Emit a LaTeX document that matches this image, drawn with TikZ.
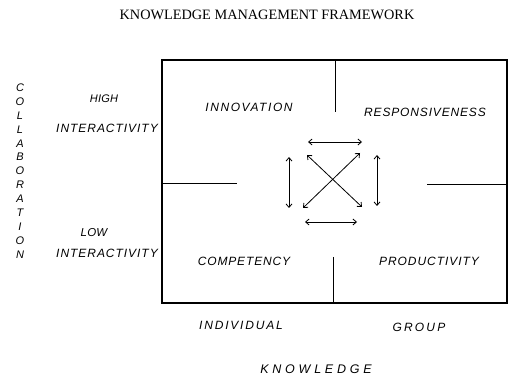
\documentclass[tikz,border=0pt]{standalone}
\usepackage{fontspec}
\setmainfont{Liberation Serif}
\newfontfamily\handA[LetterSpace=8]{Liberation Sans}
\newfontfamily\handB[LetterSpace=13]{Liberation Sans}
\newfontfamily\handC[LetterSpace=7]{Liberation Sans}
\newfontfamily\handD[LetterSpace=2]{Liberation Sans}
\newfontfamily\handE[LetterSpace=15]{Liberation Sans}
\newfontfamily\handF[LetterSpace=18]{Liberation Sans}
\newfontfamily\handG[LetterSpace=30]{Liberation Sans}
\usetikzlibrary{arrows.meta}
\tikzset{
  frame/.style={line width=1.1pt},
  divider/.style={line width=0.9pt},
  link/.style={line width=0.8pt,{Straight Barb[length=3.5pt,width=6pt]}-{Straight Barb[length=3.5pt,width=6pt]}},
  lbl/.style={font=\handA\itshape\fontsize{12}{14}\selectfont,inner sep=0pt},
  vert/.style={font=\handD\itshape\fontsize{11}{12}\selectfont,inner sep=0pt,align=center}
}
\begin{document}
\begin{tikzpicture}[x=1pt,y=-1pt]
\useasboundingbox (0,0) rectangle (509,382);
\node[font=\fontsize{14.3}{16}\selectfont] (title) at (267,15) {KNOWLEDGE MANAGEMENT FRAMEWORK};
% frame
\node[frame,draw,minimum width=345pt,minimum height=243pt,inner sep=0pt] (box) at (334.5,181.5) {};
% dividers
\coordinate (t1) at (335,60); \coordinate (t2) at (335,112);
\coordinate (b1) at (333,257); \coordinate (b2) at (333,303);
\coordinate (l1) at (162,183); \coordinate (l2) at (237,183);
\coordinate (r1) at (427,184); \coordinate (r2) at (507,184);
\draw[divider] (t1) -- (t2);
\draw[divider] (b1) -- (b2);
\draw[divider] (l1) -- (l2);
\draw[divider] (r1) -- (r2);
% arrows
\coordinate (a1) at (308,142); \coordinate (a2) at (362,142);
\coordinate (a3) at (305,222); \coordinate (a4) at (357,222);
\coordinate (a5) at (289,157); \coordinate (a6) at (289,208);
\coordinate (a7) at (377,155); \coordinate (a8) at (377,206);
\coordinate (d1) at (307,155); \coordinate (d2) at (362,207);
\coordinate (d3) at (360,153); \coordinate (d4) at (303,208);
\draw[link] (a1) -- (a2);
\draw[link] (a3) -- (a4);
\draw[link] (a5) -- (a6);
\draw[link] (a7) -- (a8);
\draw[link] (d1) -- (d2);
\draw[link] (d3) -- (d4);
% quadrant labels
\node[lbl,font=\handB\itshape\fontsize{12}{14}\selectfont] (inn) at (249,107) {INNOVATION};
\node[lbl,font=\handC\itshape\fontsize{12}{14}\selectfont] (resp) at (425,112) {RESPONSIVENESS};
\node[lbl,font=\handC\itshape\fontsize{12}{14}\selectfont] (comp) at (244,261) {COMPETENCY};
\node[lbl] (prod) at (429,261) {PRODUCTIVITY};
% side labels
\node[lbl,font=\handD\itshape\fontsize{11}{13}\selectfont] (high) at (104,99) {HIGH};
\node[lbl] (hint) at (107,128) {INTERACTIVITY};
\node[lbl,font=\handD\itshape\fontsize{11.5}{13}\selectfont] (low) at (94,233) {LOW};
\node[lbl] (lint) at (107,253) {INTERACTIVITY};
\node[vert] (collab) at (20,171) {C\\[1.9pt]O\\[1.9pt]L\\[1.9pt]L\\[1.9pt]A\\[1.9pt]B\\[1.9pt]O\\[1.9pt]R\\[1.9pt]A\\[1.9pt]T\\[1.9pt]I\\[1.9pt]O\\[1.9pt]N};
% bottom labels
\node[lbl,font=\handE\itshape\fontsize{12}{14}\selectfont] (ind) at (241,325) {INDIVIDUAL};
\node[lbl,font=\handF\itshape\fontsize{12}{14}\selectfont] (grp) at (419,327) {GROUP};
\node[lbl,font=\handG\itshape\fontsize{12.5}{14}\selectfont] (know) at (316,369) {KNOWLEDGE};
\end{tikzpicture}
\end{document}
